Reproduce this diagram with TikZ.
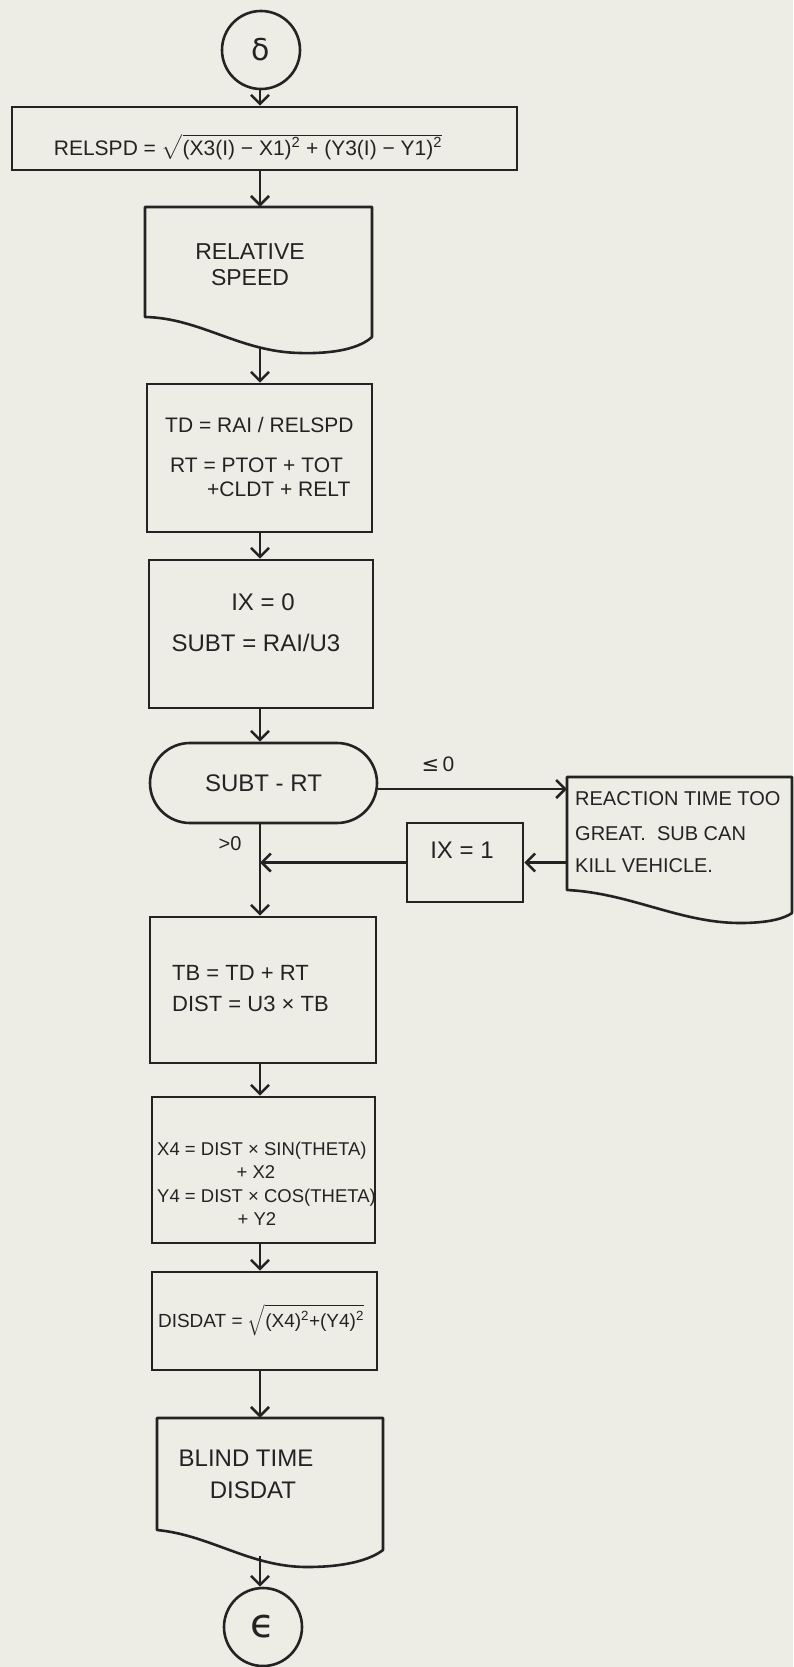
\documentclass[tikz,border=0pt]{standalone}
\usepackage{amsmath}
\usepackage{fontspec}
\setmainfont{Liberation Sans}
\newfontfamily\dejavu{DejaVu Sans}
\usetikzlibrary{arrows.meta,calc}
\definecolor{paper}{RGB}{237,237,229}
\definecolor{ink}{RGB}{35,35,35}
\newcommand\myfs[1]{\fontsize{#1}{#1}\selectfont}
\begin{document}
\begin{tikzpicture}[x=1pt,y=-1pt,
  every node/.style={text=ink},
  ln/.style={draw=ink,line width=2.6pt,line join=round},
  arr/.style={draw=ink,line width=2.6pt,-{Straight Barb[length=9pt,width=18pt]}},
  box/.style={draw=ink,line width=2.6pt,rectangle,inner sep=0pt},
  ghost/.style={draw=none,rectangle,inner sep=0pt},
  conn/.style={draw=ink,line width=2.6pt,circle,minimum size=78pt,inner sep=0pt},
  txt/.style={inner sep=0pt,anchor=base west},
  ctxt/.style={inner sep=0pt,anchor=base}]
\fill[paper] (0,0) rectangle (793,1667);
\useasboundingbox (0,0) rectangle (793,1667);
\coordinate (col) at (260,0);

% start connector
\node[conn,font=\myfs{30}\dejavu] (start) at (261,50) {δ};

% RELSPD
\node[box,minimum width=505pt,minimum height=63pt] (relspd) at (264.5,138.5) {};
\node[ctxt,font=\myfs{21}] (relspdt) at (248,155) {RELSPD = $\sqrt{\mbox{(X3(I) − X1)\textsuperscript{2} + (Y3(I) − Y1)\textsuperscript{2}}}$};

% RELATIVE SPEED document
\node[ghost,minimum width=227pt,minimum height=146pt] (relbox) at (258.5,280) {};
\draw[ln] (145,317) -- (145,207) -- (372,207) -- (372,337)
  .. controls (360,348) and (335,354) .. (300,353)
  .. controls (240,352) and (200,318) .. (145,317) -- cycle;
\node[ctxt,font=\myfs{23}] (rel1) at (250,259) {RELATIVE};
\node[ctxt,font=\myfs{23}] (rel2) at (250,285) {SPEED};
\coordinate (relb) at (260,347);

% TD box
\node[box,minimum width=225pt,minimum height=148pt] (td) at (259.5,458) {};
\node[txt,font=\myfs{21}] (td1) at (165,432.5) {TD = RAI / RELSPD};
\node[txt,font=\myfs{21}] (td2) at (170,472.5) {RT = PTOT + TOT};
\node[txt,font=\myfs{21}] (td3) at (207,496.5) {+CLDT + RELT};

% IX=0 box
\node[box,minimum width=224pt,minimum height=148pt] (ix0) at (261,634) {};
\node[ctxt,font=\myfs{24}] (ix0a) at (263,610.6) {IX = 0};
\node[ctxt,font=\myfs{24}] (ix0b) at (256,651.6) {SUBT = RAI/U3};

% decision terminal
\node[draw=ink,line width=2.6pt,rounded corners=40pt,minimum width=227pt,minimum height=80pt,inner sep=0pt,font=\myfs{24}] (term) at (263.5,783) {SUBT - RT};
\node[font=\myfs{21}] (le) at (438,764) {{\dejavu ≤}\,0};
\node[font=\myfs{20}] (gt) at (230,844) {>0};

% reaction document
\node[ghost,minimum width=225pt,minimum height=146pt] (reactbox) at (679.5,850) {};
\draw[ln] (567,890) -- (567,777) -- (792,777) -- (792,913)
  .. controls (785,918) and (770,923) .. (740,923)
  .. controls (680,923) and (630,893) .. (567,890) -- cycle;
\node[txt,font=\myfs{20}] (re1) at (575,805) {REACTION TIME TOO};
\node[txt,font=\myfs{20}] (re2) at (575,840) {GREAT.\ \ SUB CAN};
\node[txt,font=\myfs{20}] (re3) at (575,872) {KILL VEHICLE.};
\coordinate (reactin) at (567,789);
\coordinate (reactout) at (567,862.5);

% IX=1 box
\node[box,minimum width=116pt,minimum height=79pt] (ix1) at (465,862.5) {};
\node[ctxt,font=\myfs{24}] (ix1t) at (462,858.6) {IX = 1};

% TB box
\node[box,minimum width=226pt,minimum height=146pt] (tb) at (263,990) {};
\node[txt,font=\myfs{22}] (tb1) at (172,980) {TB = TD + RT};
\node[txt,font=\myfs{22}] (tb2) at (172,1011) {DIST = U3 × TB};

% X4 / Y4 box
\node[box,minimum width=223pt,minimum height=146pt] (xy) at (263.5,1170) {};
\node[txt,font=\myfs{18.5}] (xy1) at (157,1155) {X4 = DIST × SIN(THETA)};
\node[ctxt,font=\myfs{18.5}] (xy2) at (256,1178) {+ X2};
\node[txt,font=\myfs{18.5}] (xy3) at (157,1202) {Y4 = DIST × COS(THETA)};
\node[ctxt,font=\myfs{18.5}] (xy4) at (257,1225) {+ Y2};

% DISDAT box
\node[box,minimum width=225pt,minimum height=98pt] (dis) at (264.5,1321) {};
\node[ctxt,font=\myfs{19}] (dist) at (261,1327) {DISDAT = $\sqrt{\mbox{(X4)\textsuperscript{2}+(Y4)\textsuperscript{2}}}$};

% BLIND TIME document
\node[ghost,minimum width=226pt,minimum height=112pt] (blindbox) at (270,1474) {};
\draw[ln] (157,1530) -- (157,1418) -- (383,1418) -- (383,1550)
  .. controls (370,1560) and (345,1567) .. (307,1567)
  .. controls (250,1567) and (210,1535) .. (157,1530) -- cycle;
\node[ctxt,font=\myfs{24}] (bl1) at (246,1466.6) {BLIND TIME};
\node[ctxt,font=\myfs{24}] (bl2) at (253,1498.6) {DISDAT};
\coordinate (blindb) at (260,1556);

% end connector
\node[conn,font=\myfs{40}\dejavu] (endc) at (263,1627) {ϵ};

% connectors
\draw[arr] (col |- start.south) -- (col |- relspd.north);
\draw[arr] (col |- relspd.south) -- (col |- relbox.north);
\draw[arr] (relb) -- (col |- td.north);
\draw[arr] (col |- td.south) -- (col |- ix0.north);
\draw[arr] (col |- ix0.south) -- (col |- term.north);
\draw[arr] ([yshift=-6pt]term.east) -- (reactin);
\draw[arr] (reactout) -- (reactout -| ix1.east);
\draw[arr] (ix1.west) -- (ix1.west -| col);
\draw[arr] (col |- term.south) -- (col |- tb.north);
\draw[arr] (col |- tb.south) -- (col |- xy.north);
\draw[arr] (col |- xy.south) -- (col |- dis.north);
\draw[arr] (col |- dis.south) -- (col |- blindbox.north);
\draw[arr] (blindb) -- (col |- endc.north);
\end{tikzpicture}
\end{document}
